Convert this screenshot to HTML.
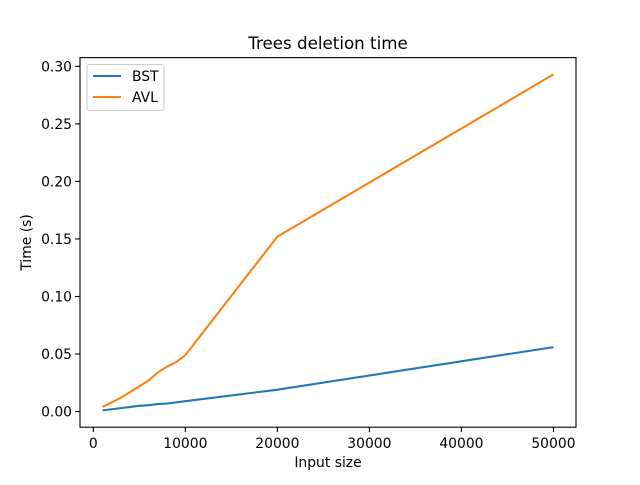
<!DOCTYPE html>
<html><head><meta charset="utf-8"><style>
body{margin:0;background:#fff;font-family:"Liberation Sans","DejaVu Sans",sans-serif;}
svg text{font-family:"DejaVu Sans","Liberation Sans",sans-serif;}
</style></head><body>
<svg id="chart" width="640" height="480" xmlns="http://www.w3.org/2000/svg">
<rect width="640" height="480" fill="#fff"/>
<g id="plot"></g>
</svg>
<script>
const xValues=[1000,2000,3000,4000,5000,6000,7000,8000,9000,10000,20000,50000];
const bstValues=[0.001,0.002,0.003,0.004,0.005,0.0055,0.0065,0.007,0.008,0.009,0.019,0.056];
const avlValues=[0.004,0.008,0.012,0.017,0.022,0.027,0.034,0.039,0.043,0.049,0.152,0.293];
const xTicks=[0,10000,20000,30000,40000,50000];
const yTicks=[0,0.05,0.10,0.15,0.20,0.25,0.30];
const yTickLabels=["0.00","0.05","0.10","0.15","0.20","0.25","0.30"];
const L=80,R=576,T=57.6,B=427.2;
const xmin=-1450,xmax=52450,ymin=-0.0136,ymax=0.3076;
const sx=v=>L+(v-xmin)/(xmax-xmin)*(R-L);
const sy=v=>B-(v-ymin)/(ymax-ymin)*(B-T);
const g=document.getElementById('plot');
const NS='http://www.w3.org/2000/svg';
function mk(tag,attrs){const e=document.createElementNS(NS,tag);for(const k in attrs)e.setAttribute(k,attrs[k]);g.appendChild(e);return e;}
function txt(x,y,s,anchor,size){const t=mk('text',{x:x,y:y,'text-anchor':anchor,'font-size':size||13.9,fill:'#000'});t.textContent=s;return t;}
xTicks.forEach(v=>{
 const l=mk('line',{x1:sx(v),x2:sx(v),y1:B,y2:B+4.9,stroke:'#000','stroke-width':1.1});
 
 
 const t=txt(sx(v),B+21,String(v),'middle');
 
 
});
yTicks.forEach((v,i)=>{
 const l=mk('line',{x1:L-4.9,x2:L,y1:sy(v),y2:sy(v),stroke:'#000','stroke-width':1.1});
 
 
 const t=txt(L-8,sy(v)+5,yTickLabels[i],'end');
 
 
});
function line(vals,color,name){
 const p=mk('polyline',{points:xValues.map((x,i)=>sx(x)+','+sy(vals[i])).join(' '),fill:'none',stroke:color,'stroke-width':2.08,'stroke-linejoin':'round'});
 
 
}
line(bstValues,'#1f77b4','bst-line');
line(avlValues,'#ff7f0e','avl-line');
const fr=mk('rect',{x:L,y:T,width:R-L,height:B-T,fill:'none',stroke:'#000','stroke-width':1.1});


const ti=txt((L+R)/2,T-8.5,'Trees deletion time','middle',16.7);


const xl=txt((L+R)/2,467,'Input size','middle',13.9);


const yl=txt(0,0,'Time (s)','middle',13.9);
yl.setAttribute('transform','translate(31,'+((T+B)/2)+') rotate(-90)');


const lg=mk('rect',{x:87,y:64.5,width:77,height:46,rx:2.5,fill:'#fff',stroke:'#ccc','stroke-width':1.1});


[['BST','#1f77b4'],['AVL','#ff7f0e']].forEach((d,i)=>{
 const y=76+i*21;
 const l=mk('line',{x1:93,x2:121,y1:y,y2:y,stroke:d[1],'stroke-width':2.08});
 
 
 const t=txt(132,y+5,d[0],'start',13.9);
 
 
});
</script>
</body></html>
